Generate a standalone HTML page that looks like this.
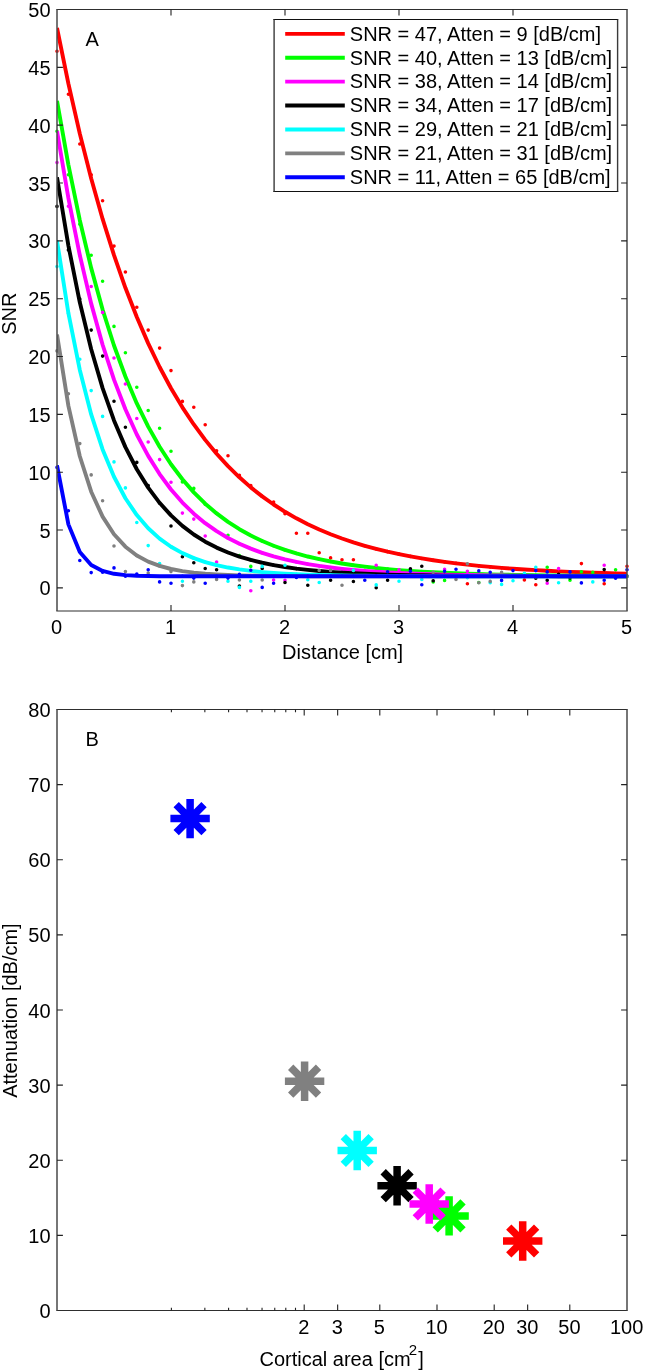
<!DOCTYPE html>
<html><head><meta charset="utf-8"><style>
html,body{margin:0;padding:0;background:#fff;width:645px;height:1371px;overflow:hidden}
svg{display:block;font-family:"Liberation Sans",sans-serif;will-change:transform}
</style></head><body>
<svg width="645" height="1371" viewBox="0 0 645 1371" font-family="Liberation Sans, sans-serif" font-size="20" fill="#000">
<defs><clipPath id="ca"><rect x="57.0" y="9.0" width="570.0" height="602.0"/></clipPath></defs>
<path d="M57 51.3h0 M68.4 94.2h0 M79.8 144h0 M91.2 174.7h0 M102.6 200.8h0 M114 246.1h0 M125.4 272h0 M136.8 307.3h0 M148.2 330.1h0 M159.6 348.1h0 M171 370.6h0 M182.4 401.4h0 M193.8 407.3h0 M205.2 424.7h0 M216.6 450.8h0 M228 455.8h0 M239.4 475.3h0 M250.8 485.6h0 M262.2 496.4h0 M273.6 502h0 M285 513.8h0 M296.4 533.2h0 M307.8 533.3h0 M319.2 552.7h0 M330.6 557.9h0 M342 559.8h0 M353.4 559.8h0 M364.8 545.8h0 M376.2 548.89h0 M387.6 551.67h0 M399 554.17h0 M410.4 556.42h0 M421.8 558.43h0 M433.2 560.25h0 M444.6 561.88h0 M456 563.34h0 M467.4 583.8h0 M478.8 565.84h0 M490.2 566.9h0 M501.6 567.85h0 M513 568.71h0 M524.4 579.9h0 M535.8 584.8h0 M547.2 570.79h0 M558.6 571.35h0 M570 571.85h0 M581.4 563.6h0 M592.8 572.71h0 M604.2 583.8h0 M615.6 573.4h0 M627 566.2h0" stroke="#ff0000" stroke-width="3.6" stroke-linecap="round" fill="none"/>
<polyline clip-path="url(#ca)" points="57,28.01 68.4,83.65 79.8,133.64 91.2,178.56 102.6,218.92 114,255.18 125.4,287.77 136.8,317.04 148.2,343.35 159.6,366.99 171,388.23 182.4,407.31 193.8,424.46 205.2,439.87 216.6,453.71 228,466.15 239.4,477.33 250.8,487.37 262.2,496.4 273.6,504.5 285,511.79 296.4,518.34 307.8,524.22 319.2,529.5 330.6,534.25 342,538.52 353.4,542.35 364.8,545.8 376.2,548.89 387.6,551.67 399,554.17 410.4,556.42 421.8,558.43 433.2,560.25 444.6,561.88 456,563.34 467.4,564.65 478.8,565.84 490.2,566.9 501.6,567.85 513,568.71 524.4,569.48 535.8,570.17 547.2,570.79 558.6,571.35 570,571.85 581.4,572.3 592.8,572.71 604.2,573.07 615.6,573.4 627,573.69" fill="none" stroke="#ff0000" stroke-width="3.9" stroke-linejoin="round"/>
<path d="M57 131.3h0 M68.4 174.7h0 M79.8 224.2h0 M91.2 255.3h0 M102.6 281.3h0 M114 326.4h0 M125.4 352.8h0 M136.8 387.2h0 M148.2 410.5h0 M159.6 428.3h0 M171 451.3h0 M182.4 481.9h0 M193.8 488.4h0 M205.2 504.2h0 M216.6 513.42h0 M228 535.3h0 M239.4 555.5h0 M250.8 566.4h0 M262.2 541.02h0 M273.6 545.77h0 M285 549.88h0 M296.4 553.43h0 M307.8 556.51h0 M319.2 559.17h0 M330.6 561.47h0 M342 563.47h0 M353.4 565.2h0 M364.8 566.69h0 M376.2 567.98h0 M387.6 569.1h0 M399 570.07h0 M410.4 570.91h0 M421.8 571.63h0 M433.2 582h0 M444.6 580.4h0 M456 573.27h0 M467.4 573.68h0 M478.8 582.5h0 M490.2 574.34h0 M501.6 574.6h0 M513 574.83h0 M524.4 575.03h0 M535.8 575.2h0 M547.2 567.2h0 M558.6 575.47h0 M570 580.3h0 M581.4 571.7h0 M592.8 572.3h0 M604.2 575.84h0 M615.6 569.8h0 M627 575.95h0" stroke="#00ff00" stroke-width="3.6" stroke-linecap="round" fill="none"/>
<polyline clip-path="url(#ca)" points="57,100.88 68.4,164.85 79.8,220.21 91.2,268.12 102.6,309.58 114,345.47 125.4,376.52 136.8,403.4 148.2,426.66 159.6,446.8 171,464.22 182.4,479.3 193.8,492.35 205.2,503.65 216.6,513.42 228,521.88 239.4,529.2 250.8,535.54 262.2,541.02 273.6,545.77 285,549.88 296.4,553.43 307.8,556.51 319.2,559.17 330.6,561.47 342,563.47 353.4,565.2 364.8,566.69 376.2,567.98 387.6,569.1 399,570.07 410.4,570.91 421.8,571.63 433.2,572.26 444.6,572.8 456,573.27 467.4,573.68 478.8,574.03 490.2,574.34 501.6,574.6 513,574.83 524.4,575.03 535.8,575.2 547.2,575.35 558.6,575.47 570,575.59 581.4,575.68 592.8,575.76 604.2,575.84 615.6,575.9 627,575.95" fill="none" stroke="#00ff00" stroke-width="3.9" stroke-linejoin="round"/>
<path d="M57 162.6h0 M68.4 206.2h0 M79.8 255.17h0 M91.2 286.5h0 M102.6 312.4h0 M114 358h0 M125.4 384h0 M136.8 418.5h0 M148.2 442h0 M159.6 459.6h0 M171 482.3h0 M182.4 513.1h0 M193.8 519.1h0 M205.2 536h0 M216.6 562h0 M228 537.96h0 M239.4 543.75h0 M250.8 590.8h0 M262.2 552.83h0 M273.6 580h0 M285 580.2h0 M296.4 561.93h0 M307.8 564.09h0 M319.2 565.93h0 M330.6 567.5h0 M342 568.82h0 M353.4 569.95h0 M364.8 570.91h0 M376.2 565.3h0 M387.6 572.41h0 M399 569.7h0 M410.4 573.5h0 M421.8 573.92h0 M433.2 574.28h0 M444.6 569.3h0 M456 574.84h0 M467.4 571.3h0 M478.8 575.25h0 M490.2 575.41h0 M501.6 575.54h0 M513 575.65h0 M524.4 575.75h0 M535.8 575.83h0 M547.2 583.3h0 M558.6 568.6h0 M570 576.01h0 M581.4 576.06h0 M592.8 576.09h0 M604.2 565.2h0 M615.6 576.15h0 M627 576.17h0" stroke="#ff00ff" stroke-width="3.6" stroke-linecap="round" fill="none"/>
<polyline clip-path="url(#ca)" points="57,130.96 68.4,198.13 79.8,255.17 91.2,303.61 102.6,344.74 114,379.66 125.4,409.32 136.8,434.51 148.2,455.9 159.6,474.06 171,489.48 182.4,502.57 193.8,513.69 205.2,523.14 216.6,531.15 228,537.96 239.4,543.75 250.8,548.66 262.2,552.83 273.6,556.37 285,559.37 296.4,561.93 307.8,564.09 319.2,565.93 330.6,567.5 342,568.82 353.4,569.95 364.8,570.91 376.2,571.72 387.6,572.41 399,573 410.4,573.5 421.8,573.92 433.2,574.28 444.6,574.58 456,574.84 467.4,575.06 478.8,575.25 490.2,575.41 501.6,575.54 513,575.65 524.4,575.75 535.8,575.83 547.2,575.9 558.6,575.96 570,576.01 581.4,576.06 592.8,576.09 604.2,576.12 615.6,576.15 627,576.17" fill="none" stroke="#ff00ff" stroke-width="3.9" stroke-linejoin="round"/>
<path d="M57 206.4h0 M68.4 249.9h0 M79.8 299h0 M91.2 330.1h0 M102.6 356.1h0 M114 401.2h0 M125.4 427.3h0 M136.8 462.4h0 M148.2 485.5h0 M159.6 503.3h0 M171 526h0 M182.4 556.8h0 M193.8 562.7h0 M205.2 568.5h0 M216.6 569.8h0 M228 552.51h0 M239.4 586h0 M250.8 559.97h0 M262.2 568.5h0 M273.6 565.08h0 M285 582.5h0 M296.4 568.6h0 M307.8 585.3h0 M319.2 571.01h0 M330.6 580.2h0 M342 572.67h0 M353.4 581.5h0 M364.8 573.81h0 M376.2 587.7h0 M387.6 580.2h0 M399 574.88h0 M410.4 568.7h0 M421.8 566.3h0 M433.2 580.8h0 M444.6 575.63h0 M456 575.74h0 M467.4 575.84h0 M478.8 575.92h0 M490.2 575.98h0 M501.6 576.04h0 M513 576.08h0 M524.4 576.12h0 M535.8 578.3h0 M547.2 580.3h0 M558.6 574.3h0 M570 578h0 M581.4 576.23h0 M592.8 576.24h0 M604.2 569.6h0 M615.6 576.26h0 M627 576.27h0" stroke="#000000" stroke-width="3.6" stroke-linecap="round" fill="none"/>
<polyline clip-path="url(#ca)" points="57,177.23 68.4,245.62 79.8,302.29 91.2,349.25 102.6,388.17 114,420.41 125.4,447.13 136.8,469.26 148.2,487.61 159.6,502.81 171,515.4 182.4,525.84 193.8,534.49 205.2,541.65 216.6,547.59 228,552.51 239.4,556.59 250.8,559.97 262.2,562.76 273.6,565.08 285,567.01 296.4,568.6 307.8,569.92 319.2,571.01 330.6,571.92 342,572.67 353.4,573.29 364.8,573.81 376.2,574.23 387.6,574.59 399,574.88 410.4,575.12 421.8,575.32 433.2,575.49 444.6,575.63 456,575.74 467.4,575.84 478.8,575.92 490.2,575.98 501.6,576.04 513,576.08 524.4,576.12 535.8,576.15 547.2,576.17 558.6,576.2 570,576.21 581.4,576.23 592.8,576.24 604.2,576.25 615.6,576.26 627,576.27" fill="none" stroke="#000000" stroke-width="3.9" stroke-linejoin="round"/>
<path d="M57 266.6h0 M68.4 313.21h0 M79.8 359.3h0 M91.2 390.6h0 M102.6 416.4h0 M114 461.9h0 M125.4 487.9h0 M136.8 522.5h0 M148.2 545.6h0 M159.6 563.6h0 M171 546.77h0 M182.4 581.3h0 M193.8 558.13h0 M205.2 562.05h0 M216.6 565.13h0 M228 581.3h0 M239.4 587.4h0 M250.8 581.3h0 M262.2 566.4h0 M273.6 572.98h0 M285 565.3h0 M296.4 574.26h0 M307.8 579.7h0 M319.2 582.5h0 M330.6 575.31h0 M342 575.53h0 M353.4 570.4h0 M364.8 575.82h0 M376.2 584.9h0 M387.6 576.01h0 M399 581.2h0 M410.4 576.12h0 M421.8 579.4h0 M433.2 576.19h0 M444.6 576.21h0 M456 576.23h0 M467.4 577.8h0 M478.8 576.26h0 M490.2 582.8h0 M501.6 584.4h0 M513 580.7h0 M524.4 573.3h0 M535.8 567.2h0 M547.2 576.29h0 M558.6 582.7h0 M570 576.29h0 M581.4 576.29h0 M592.8 581.9h0 M604.2 576.3h0 M615.6 576.3h0 M627 576.3h0" stroke="#00ffff" stroke-width="3.6" stroke-linecap="round" fill="none"/>
<polyline clip-path="url(#ca)" points="57,240.85 68.4,313.21 79.8,369.97 91.2,414.48 102.6,449.39 114,476.77 125.4,498.24 136.8,515.08 148.2,528.28 159.6,538.64 171,546.77 182.4,553.14 193.8,558.13 205.2,562.05 216.6,565.13 228,567.54 239.4,569.43 250.8,570.91 262.2,572.07 273.6,572.98 285,573.7 296.4,574.26 307.8,574.7 319.2,575.04 330.6,575.31 342,575.53 353.4,575.69 364.8,575.82 376.2,575.93 387.6,576.01 399,576.07 410.4,576.12 421.8,576.16 433.2,576.19 444.6,576.21 456,576.23 467.4,576.24 478.8,576.26 490.2,576.27 501.6,576.27 513,576.28 524.4,576.28 535.8,576.29 547.2,576.29 558.6,576.29 570,576.29 581.4,576.29 592.8,576.29 604.2,576.3 615.6,576.3 627,576.3" fill="none" stroke="#00ffff" stroke-width="3.9" stroke-linejoin="round"/>
<path d="M57 350.9h0 M68.4 393.7h0 M79.8 443.6h0 M91.2 474.9h0 M102.6 500.7h0 M114 546h0 M125.4 571.6h0 M136.8 555.44h0 M148.2 573h0 M159.6 565.94h0 M171 571.6h0 M182.4 585.6h0 M193.8 581.9h0 M205.2 573.74h0 M216.6 579.4h0 M228 575.03h0 M239.4 580h0 M250.8 575.67h0 M262.2 580h0 M273.6 575.99h0 M285 576.08h0 M296.4 576.14h0 M307.8 576.19h0 M319.2 570.4h0 M330.6 570.4h0 M342 585.3h0 M353.4 576.27h0 M364.8 576.28h0 M376.2 576.28h0 M387.6 576.29h0 M399 576.29h0 M410.4 576.29h0 M421.8 576.29h0 M433.2 572.3h0 M444.6 576.3h0 M456 579.4h0 M467.4 563.7h0 M478.8 582.8h0 M490.2 581.4h0 M501.6 572.3h0 M513 576.3h0 M524.4 576.3h0 M535.8 576.3h0 M547.2 576.3h0 M558.6 576.3h0 M570 576.3h0 M581.4 576.3h0 M592.8 576.3h0 M604.2 576.3h0 M615.6 576.3h0 M627 576.3h0" stroke="#808080" stroke-width="3.6" stroke-linecap="round" fill="none"/>
<polyline clip-path="url(#ca)" points="57,334.54 68.4,405.93 79.8,456.25 91.2,491.7 102.6,516.68 114,534.29 125.4,546.69 136.8,555.44 148.2,561.6 159.6,565.94 171,569 182.4,571.15 193.8,572.67 205.2,573.74 216.6,574.5 228,575.03 239.4,575.4 250.8,575.67 262.2,575.85 273.6,575.99 285,576.08 296.4,576.14 307.8,576.19 319.2,576.22 330.6,576.24 342,576.26 353.4,576.27 364.8,576.28 376.2,576.28 387.6,576.29 399,576.29 410.4,576.29 421.8,576.29 433.2,576.3 444.6,576.3 456,576.3 467.4,576.3 478.8,576.3 490.2,576.3 501.6,576.3 513,576.3 524.4,576.3 535.8,576.3 547.2,576.3 558.6,576.3 570,576.3 581.4,576.3 592.8,576.3 604.2,576.3 615.6,576.3 627,576.3" fill="none" stroke="#808080" stroke-width="3.9" stroke-linejoin="round"/>
<path d="M57 467.4h0 M68.4 510.8h0 M79.8 560.5h0 M91.2 572.6h0 M102.6 572.2h0 M114 567.9h0 M125.4 576.3h0 M136.8 574h0 M148.2 569.8h0 M159.6 581.9h0 M171 583.3h0 M182.4 576.27h0 M193.8 578.1h0 M205.2 583.2h0 M216.6 576.3h0 M228 578.1h0 M239.4 574.4h0 M250.8 570.3h0 M262.2 587.4h0 M273.6 583.2h0 M285 576.3h0 M296.4 577.4h0 M307.8 576.3h0 M319.2 576.3h0 M330.6 576.3h0 M342 576.3h0 M353.4 576.3h0 M364.8 580.2h0 M376.2 576.3h0 M387.6 571.7h0 M399 576.3h0 M410.4 571.3h0 M421.8 584.8h0 M433.2 576.3h0 M444.6 571.3h0 M456 569.3h0 M467.4 576.3h0 M478.8 570.9h0 M490.2 572.3h0 M501.6 580.4h0 M513 570.6h0 M524.4 576.3h0 M535.8 570.6h0 M547.2 571.9h0 M558.6 576.3h0 M570 571.9h0 M581.4 582.9h0 M592.8 576.3h0 M604.2 580.3h0 M615.6 578.3h0 M627 569.8h0" stroke="#0000ff" stroke-width="3.6" stroke-linecap="round" fill="none"/>
<polyline clip-path="url(#ca)" points="57,465.37 68.4,524.37 79.8,551.99 91.2,564.92 102.6,570.97 114,573.8 125.4,575.13 136.8,575.75 148.2,576.04 159.6,576.18 171,576.24 182.4,576.27 193.8,576.29 205.2,576.29 216.6,576.3 228,576.3 239.4,576.3 250.8,576.3 262.2,576.3 273.6,576.3 285,576.3 296.4,576.3 307.8,576.3 319.2,576.3 330.6,576.3 342,576.3 353.4,576.3 364.8,576.3 376.2,576.3 387.6,576.3 399,576.3 410.4,576.3 421.8,576.3 433.2,576.3 444.6,576.3 456,576.3 467.4,576.3 478.8,576.3 490.2,576.3 501.6,576.3 513,576.3 524.4,576.3 535.8,576.3 547.2,576.3 558.6,576.3 570,576.3 581.4,576.3 592.8,576.3 604.2,576.3 615.6,576.3 627,576.3" fill="none" stroke="#0000ff" stroke-width="3.9" stroke-linejoin="round"/>
<path d="M56.3 9.5H627.7 M56.3 611.0H627.7" stroke="#2e2e2e" stroke-width="1.2" fill="none"/><path d="M57.0 9.5V611.0 M627.0 9.5V611.0" stroke="#4a4a4a" stroke-width="1.5" fill="none"/>
<path d="M171 611.0v-5.9 M171 9.5v5.9 M285 611.0v-5.9 M285 9.5v5.9 M399 611.0v-5.9 M399 9.5v5.9 M513 611.0v-5.9 M513 9.5v5.9 M57.0 587.87h5.9 M627.0 587.87h-5.9 M57.0 530.03h5.9 M627.0 530.03h-5.9 M57.0 472.19h5.9 M627.0 472.19h-5.9 M57.0 414.36h5.9 M627.0 414.36h-5.9 M57.0 356.52h5.9 M627.0 356.52h-5.9 M57.0 298.68h5.9 M627.0 298.68h-5.9 M57.0 240.85h5.9 M627.0 240.85h-5.9 M57.0 183.01h5.9 M627.0 183.01h-5.9 M57.0 125.17h5.9 M627.0 125.17h-5.9 M57.0 67.34h5.9 M627.0 67.34h-5.9" stroke="#222" stroke-width="1.1" fill="none"/>
<text x="56.6" y="634.0" text-anchor="middle">0</text>
<text x="170.6" y="634.0" text-anchor="middle">1</text>
<text x="284.6" y="634.0" text-anchor="middle">2</text>
<text x="398.6" y="634.0" text-anchor="middle">3</text>
<text x="512.6" y="634.0" text-anchor="middle">4</text>
<text x="626.6" y="634.0" text-anchor="middle">5</text>
<text x="50.6" y="595.37" text-anchor="end">0</text>
<text x="50.6" y="537.53" text-anchor="end">5</text>
<text x="50.6" y="479.69" text-anchor="end">10</text>
<text x="50.6" y="421.86" text-anchor="end">15</text>
<text x="50.6" y="364.02" text-anchor="end">20</text>
<text x="50.6" y="306.18" text-anchor="end">25</text>
<text x="50.6" y="248.35" text-anchor="end">30</text>
<text x="50.6" y="190.51" text-anchor="end">35</text>
<text x="50.6" y="132.67" text-anchor="end">40</text>
<text x="50.6" y="74.84" text-anchor="end">45</text>
<text x="50.6" y="17" text-anchor="end">50</text>
<text x="342.6" y="658.8" text-anchor="middle">Distance [cm]</text>
<text transform="translate(16.4,313.7) rotate(-90)" text-anchor="middle">SNR</text>
<text x="85.46" y="45.9">A</text>
<rect x="274" y="19.5" width="343.6" height="172" fill="#fff"/>
<path d="M273.3 19.5H618.3M273.3 191.5H618.3" stroke="#111" stroke-width="1" fill="none"/>
<path d="M274.1 19.5V191.5M617.6 19.5V191.5" stroke="#3a3a3a" stroke-width="1.4" fill="none"/>
<line x1="285.2" x2="344.8" y1="33.85" y2="33.85" stroke="#ff0000" stroke-width="3.9"/>
<text x="349.8" y="40.6">SNR = 47, Atten = 9 [dB/cm]</text>
<line x1="285.2" x2="344.8" y1="57.75" y2="57.75" stroke="#00ff00" stroke-width="3.9"/>
<text x="349.8" y="64.5">SNR = 40, Atten = 13 [dB/cm]</text>
<line x1="285.2" x2="344.8" y1="81.65" y2="81.65" stroke="#ff00ff" stroke-width="3.9"/>
<text x="349.8" y="88.4">SNR = 38, Atten = 14 [dB/cm]</text>
<line x1="285.2" x2="344.8" y1="105.55" y2="105.55" stroke="#000000" stroke-width="3.9"/>
<text x="349.8" y="112.3">SNR = 34, Atten = 17 [dB/cm]</text>
<line x1="285.2" x2="344.8" y1="129.45" y2="129.45" stroke="#00ffff" stroke-width="3.9"/>
<text x="349.8" y="136.2">SNR = 29, Atten = 21 [dB/cm]</text>
<line x1="285.2" x2="344.8" y1="153.35" y2="153.35" stroke="#808080" stroke-width="3.9"/>
<text x="349.8" y="160.1">SNR = 21, Atten = 31 [dB/cm]</text>
<line x1="285.2" x2="344.8" y1="177.25" y2="177.25" stroke="#0000ff" stroke-width="3.9"/>
<text x="349.8" y="184">SNR = 11, Atten = 65 [dB/cm]</text>
<path d="M56.3 709.5H627.7 M56.3 1310.5H627.7" stroke="#2e2e2e" stroke-width="1.2" fill="none"/><path d="M57.0 709.5V1310.5 M627.0 709.5V1310.5" stroke="#4a4a4a" stroke-width="1.5" fill="none"/>
<path d="M304.2 1310.5v-5.9 M304.2 709.5v5.9 M337.65 1310.5v-5.9 M337.65 709.5v5.9 M379.8 1310.5v-5.9 M379.8 709.5v5.9 M437 1310.5v-5.9 M437 709.5v5.9 M494.2 1310.5v-5.9 M494.2 709.5v5.9 M527.65 1310.5v-5.9 M527.65 709.5v5.9 M569.8 1310.5v-5.9 M569.8 709.5v5.9 M171.39 1310.5v-2.7 M171.39 709.5v2.7 M204.85 1310.5v-2.7 M204.85 709.5v2.7 M228.59 1310.5v-2.7 M228.59 709.5v2.7 M247 1310.5v-2.7 M247 709.5v2.7 M262.04 1310.5v-2.7 M262.04 709.5v2.7 M274.76 1310.5v-2.7 M274.76 709.5v2.7 M285.78 1310.5v-2.7 M285.78 709.5v2.7 M295.5 1310.5v-2.7 M295.5 709.5v2.7 M57.0 1235.38h5.9 M627.0 1235.38h-5.9 M57.0 1160.25h5.9 M627.0 1160.25h-5.9 M57.0 1085.12h5.9 M627.0 1085.12h-5.9 M57.0 1010h5.9 M627.0 1010h-5.9 M57.0 934.88h5.9 M627.0 934.88h-5.9 M57.0 859.75h5.9 M627.0 859.75h-5.9 M57.0 784.62h5.9 M627.0 784.62h-5.9" stroke="#222" stroke-width="1.1" fill="none"/>
<text x="303.8" y="1334.0" text-anchor="middle">2</text>
<text x="337.25" y="1334.0" text-anchor="middle">3</text>
<text x="379.4" y="1334.0" text-anchor="middle">5</text>
<text x="436.6" y="1334.0" text-anchor="middle">10</text>
<text x="493.8" y="1334.0" text-anchor="middle">20</text>
<text x="527.25" y="1334.0" text-anchor="middle">30</text>
<text x="569.4" y="1334.0" text-anchor="middle">50</text>
<text x="626.6" y="1334.0" text-anchor="middle">100</text>
<text x="50.6" y="1318" text-anchor="end">0</text>
<text x="50.6" y="1242.88" text-anchor="end">10</text>
<text x="50.6" y="1167.75" text-anchor="end">20</text>
<text x="50.6" y="1092.62" text-anchor="end">30</text>
<text x="50.6" y="1017.5" text-anchor="end">40</text>
<text x="50.6" y="942.38" text-anchor="end">50</text>
<text x="50.6" y="867.25" text-anchor="end">60</text>
<text x="50.6" y="792.12" text-anchor="end">70</text>
<text x="50.6" y="717" text-anchor="end">80</text>
<text x="341.7" y="1365.8" text-anchor="middle">Cortical area [cm<tspan dx="-1.8" dy="-11.3" font-size="15">2</tspan><tspan dx="1.2" dy="11.3">]</tspan></text>
<text transform="translate(16.6,1010.6) rotate(-90)" text-anchor="middle">Attenuation [dB/cm]</text>
<text x="85.46" y="745.6">B</text>
<path d="M503 1241h39.4 M522.7 1221.3v39.4 M508.77 1227.07l27.86 27.86 M508.77 1254.93l27.86 -27.86" stroke="#ff0000" stroke-width="7.5" fill="none"/>
<path d="M429.4 1215.9h39.4 M449.1 1196.2v39.4 M435.17 1201.97l27.86 27.86 M435.17 1229.83l27.86 -27.86" stroke="#00ff00" stroke-width="7.5" fill="none"/>
<path d="M377.4 1185.7h39.4 M397.1 1166v39.4 M383.17 1171.77l27.86 27.86 M383.17 1199.63l27.86 -27.86" stroke="#000000" stroke-width="7.5" fill="none"/>
<path d="M409.5 1204h39.4 M429.2 1184.3v39.4 M415.27 1190.07l27.86 27.86 M415.27 1217.93l27.86 -27.86" stroke="#ff00ff" stroke-width="7.5" fill="none"/>
<path d="M337.5 1150.5h39.4 M357.2 1130.8v39.4 M343.27 1136.57l27.86 27.86 M343.27 1164.43l27.86 -27.86" stroke="#00ffff" stroke-width="7.5" fill="none"/>
<path d="M284.9 1081.2h39.4 M304.6 1061.5v39.4 M290.67 1067.27l27.86 27.86 M290.67 1095.13l27.86 -27.86" stroke="#808080" stroke-width="7.5" fill="none"/>
<path d="M170.4 818.6h39.4 M190.1 798.9v39.4 M176.17 804.67l27.86 27.86 M176.17 832.53l27.86 -27.86" stroke="#0000ff" stroke-width="7.5" fill="none"/>
</svg>
</body></html>
